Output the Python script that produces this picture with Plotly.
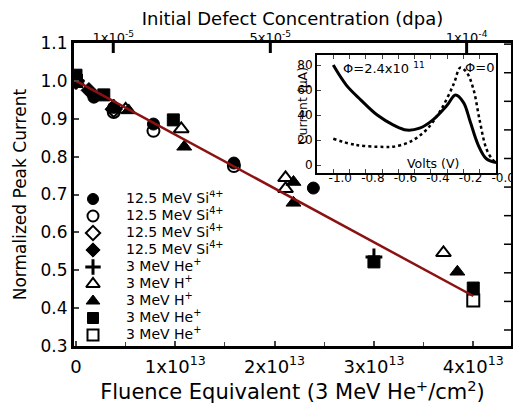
import plotly.graph_objects as go

# ---------------- data ----------------
series_names = [
    "12.5 MeV Si<sup>4+</sup>", "12.5 MeV Si<sup>4+</sup>", "12.5 MeV Si<sup>4+</sup>",
    "12.5 MeV Si<sup>4+</sup>", "3 MeV He<sup>+</sup>", "3 MeV H<sup>+</sup>",
    "3 MeV H<sup>+</sup>", "3 MeV He<sup>+</sup>", "3 MeV He<sup>+</sup>",
]
series_symbols = ["circle", "circle-open", "diamond-open", "diamond", "cross-thin",
                  "triangle-up-open", "triangle-up", "square", "square-open"]

si_filled_circle_x = [0, 0.18e13, 0.38e13, 0.78e13, 1.59e13, 2.39e13]
si_filled_circle_y = [1.0, 0.957, 0.930, 0.886, 0.783, 0.717]
si_open_circle_x = [0, 0.38e13, 0.78e13, 1.59e13]
si_open_circle_y = [1.0, 0.918, 0.868, 0.775]
si_open_diamond_x = [0, 0.38e13]
si_open_diamond_y = [1.0, 0.925]
si_filled_diamond_x = [0, 0.13e13]
si_filled_diamond_y = [1.0, 0.975]
he_plus_x = [0, 3.0e13]
he_plus_y = [1.0, 0.535]
h_open_tri_x = [0, 0.50e13, 1.06e13, 2.11e13, 2.11e13, 3.70e13]
h_open_tri_y = [1.0, 0.925, 0.873, 0.744, 0.715, 0.546]
h_filled_tri_x = [0, 0.38e13, 0.53e13, 1.09e13, 2.19e13, 2.19e13, 3.84e13]
h_filled_tri_y = [1.0, 0.935, 0.922, 0.826, 0.733, 0.678, 0.496]
he_filled_sq_x = [0, 0.28e13, 0.98e13, 3.0e13, 4.0e13]
he_filled_sq_y = [1.015, 0.963, 0.897, 0.522, 0.453]
he_open_sq_x = [0, 4.0e13]
he_open_sq_y = [1.0, 0.420]

fit_x = [0, 4.0e13]
fit_y = [1.0, 0.432]

series_x = [si_filled_circle_x, si_open_circle_x, si_open_diamond_x, si_filled_diamond_x,
            he_plus_x, h_open_tri_x, h_filled_tri_x, he_filled_sq_x, he_open_sq_x]
series_y = [si_filled_circle_y, si_open_circle_y, si_open_diamond_y, si_filled_diamond_y,
            he_plus_y, h_open_tri_y, h_filled_tri_y, he_filled_sq_y, he_open_sq_y]

# inset I-V curves
iv_v_irr = [-1.0, -0.92, -0.83, -0.73, -0.63, -0.55, -0.47, -0.39, -0.30, -0.25, -0.20,
            -0.16, -0.11, -0.06, 0.0]
iv_i_irr = [80, 64, 52, 40, 32, 28, 29.5, 36, 48, 56, 50, 35, 16, 5, 2]
iv_v_ref = [-1.0, -0.86, -0.69, -0.63, -0.53, -0.43, -0.34, -0.26, -0.22, -0.18, -0.14,
            -0.10, -0.06, -0.02, 0.0]
iv_i_ref = [21, 16, 14.5, 14.7, 18.5, 28, 44, 65, 78, 74, 61, 35, 13, 4, 2]

x_tickvals = [0, 1e13, 2e13, 3e13, 4e13]
x_ticktext = ["0", "1x10<sup>13</sup>", "2x10<sup>13</sup>", "3x10<sup>13</sup>", "4x10<sup>13</sup>"]
top_tickvals = [1e-5, 5e-5, 1e-4]
top_ticktext = ["1x10<sup>-5</sup>", "5x10<sup>-5</sup>", "1x10<sup>-4</sup>"]
right_tickvals = list(range(0, 11))
y_tickvals = [0.3, 0.4, 0.5, 0.6, 0.7, 0.8, 0.9, 1.0, 1.1]
y_ticktext = ["0.3", "0.4", "0.5", "0.6", "0.7", "0.8", "0.9", "1.0", "1.1"]
inset_xtickvals = [-1.0, -0.8, -0.6, -0.4, -0.2, 0.0]
inset_xticktext = ["-1.0", "-0.8", "-0.6", "-0.4", "-0.2", "-0.0"]
inset_ytickvals = [0, 20, 40, 60, 80]

legend_rows = list(range(len(series_names)))

# ---------------- figure ----------------
FONT = "DejaVu Sans, Liberation Sans, Arial, sans-serif"
fig = go.Figure()


def marker_for(sym, legend=False):
    open_ = sym.endswith("open")
    size = 13 if "triangle" in sym else 12
    if legend:
        size -= 1
    if sym == "cross-thin":
        return dict(symbol=sym, size=size, line=dict(color="black", width=3), color="black")
    if open_:
        return dict(symbol=sym, size=size, color="black", line=dict(color="black", width=2))
    return dict(symbol=sym, size=size, color="black", line=dict(color="black", width=1))


for name, sym, xs, ys in zip(series_names, series_symbols, series_x, series_y):
    fig.add_trace(go.Scatter(x=xs, y=ys, mode="markers", name=name, marker=marker_for(sym),
                             showlegend=False, xaxis="x", yaxis="y"))

fig.add_trace(go.Scatter(x=fit_x, y=fit_y, mode="lines", line=dict(color="#8b1212", width=2.5),
                         showlegend=False, xaxis="x", yaxis="y"))

# helper traces so the extra axes are drawn
fig.add_trace(go.Scatter(x=[5e-5], y=[None], mode="markers", showlegend=False,
                         xaxis="x2", yaxis="y", hoverinfo="skip"))
fig.add_trace(go.Scatter(x=[None], y=[0], mode="markers", showlegend=False,
                         xaxis="x", yaxis="y3", hoverinfo="skip"))

# legend key (own small subplot, one row per series)
for row, name, sym in zip(legend_rows, series_names, series_symbols):
    fig.add_trace(go.Scatter(x=[0], y=[row], mode="markers", marker=marker_for(sym, legend=True),
                             showlegend=False, xaxis="x4", yaxis="y5", hoverinfo="skip"))
fig.add_trace(go.Scatter(x=[33] * len(legend_rows), y=legend_rows, mode="text", text=series_names,
                         textposition="middle right", textfont=dict(size=14, family=FONT, color="black"),
                         showlegend=False, xaxis="x4", yaxis="y5", hoverinfo="skip"))

# inset
fig.add_trace(go.Scatter(x=iv_v_ref, y=iv_i_ref, mode="lines",
                         line=dict(color="black", width=2.5, dash="dot", shape="spline"),
                         showlegend=False, xaxis="x3", yaxis="y4"))
fig.add_trace(go.Scatter(x=iv_v_irr, y=iv_i_irr, mode="lines",
                         line=dict(color="black", width=3, shape="spline"),
                         showlegend=False, xaxis="x3", yaxis="y4"))

axis_common = dict(showgrid=False, zeroline=False, linecolor="black", showline=True, automargin=False)

# tick marks of the top (dpa) axis and of the right-hand axis
tick_shapes = [dict(type="line", xref="x2", yref="y domain", x0=v, x1=v, y0=1, y1=1 - 10 / 303,
                    line=dict(color="black", width=3)) for v in top_tickvals]
tick_shapes += [dict(type="line", xref="x domain", yref="y3", x0=1, x1=1 - 7 / 437, y0=v, y1=v,
                     line=dict(color="black", width=1.5)) for v in right_tickvals]

# the page body adds an 8 px offset, so the figure is 8 px smaller each way
fig.update_layout(
    width=513, height=397,
    margin=dict(l=66, r=10, t=35, b=59, autoexpand=False),
    paper_bgcolor="white", plot_bgcolor="rgba(0,0,0,0)",
    font=dict(family=FONT, color="black"),
    showlegend=False,
    xaxis=dict(**axis_common, linewidth=3, mirror=True, range=[-0.02e13, 4.38e13],
               tickvals=x_tickvals, ticktext=x_ticktext, ticks="inside", ticklen=5, tickwidth=1.5,
               minor=dict(dtick=0.5e13, tick0=0, ticks="inside", ticklen=4, tickwidth=1),
               tickfont=dict(size=18), ticklabelstandoff=2,
               title=dict(text="Fluence Equivalent (3 MeV He<sup>+</sup>/cm<sup>2</sup>)",
                          font=dict(size=21), standoff=0),
               domain=[0, 1], anchor="y"),
    xaxis2=dict(showgrid=False, zeroline=False, showline=False, automargin=False,
                overlaying="x", side="top", anchor="y",
                range=[0, 1.113e-4], tickvals=top_tickvals, ticktext=top_ticktext,
                ticks="", tickfont=dict(size=13), ticklabelstandoff=-3,
                title=dict(text="Initial Defect Concentration (dpa)", font=dict(size=18), standoff=0)),
    yaxis=dict(**axis_common, linewidth=3, mirror=True, range=[0.3, 1.1],
               tickvals=y_tickvals, ticktext=y_ticktext, ticks="inside", ticklen=5, tickwidth=1.5,
               tickfont=dict(size=17), ticklabelstandoff=0,
               domain=[0, 1], anchor="x"),
    yaxis3=dict(showgrid=False, zeroline=False, showline=False, automargin=False,
                overlaying="y", side="right", anchor="x",
                range=[-0.56, 10.04], ticks="", showticklabels=False),
    xaxis4=dict(visible=False, domain=[0.0, 0.6], range=[-19, 243.2], anchor="y5", fixedrange=True),
    yaxis5=dict(visible=False, domain=[0.00825, 0.5132], range=[8.5, -0.5], anchor="x4", fixedrange=True),
    xaxis3=dict(**axis_common, linewidth=2, mirror="ticks", domain=[0.556, 0.966], anchor="y4",
                range=[-1.1, 0.0], tickvals=inset_xtickvals, ticktext=inset_xticktext,
                ticks="inside", ticklen=4, tickwidth=1,
                minor=dict(dtick=0.1, tick0=0, ticks="inside", ticklen=4, tickwidth=1),
                tickfont=dict(size=12), ticklabelshift=7, ticklabelstandoff=-7),
    yaxis4=dict(**axis_common, linewidth=2, mirror=True, domain=[0.571, 0.960], anchor="x3",
                range=[-6.4, 88], tickvals=inset_ytickvals, ticks="inside", ticklen=4, tickwidth=1,
                tickfont=dict(size=12)),
    shapes=[dict(type="rect", xref="x3 domain", yref="y4 domain", x0=0, x1=1, y0=0, y1=1,
                 fillcolor="white", line=dict(width=0), layer="below")] + tick_shapes,
    annotations=[
        dict(text="Normalized Peak Current", xref="paper", yref="paper", x=-0.124, y=0.5,
             xanchor="center", yanchor="middle", textangle=-90, showarrow=False, font=dict(size=17)),
        dict(text="Φ=2.4x10 <sup>11</sup>", xref="x3", yref="y4", x=-0.95, y=78, xanchor="left",
             yanchor="middle", showarrow=False, font=dict(size=13)),
        dict(text="Φ=0", xref="x3", yref="y4", x=0.0, y=78, xanchor="right",
             yanchor="middle", showarrow=False, font=dict(size=13)),
        dict(text="Volts (V)", xref="x3", yref="y4", x=-0.386, y=1, xanchor="center",
             yanchor="middle", showarrow=False, font=dict(size=12.5)),
        dict(text="Current (μA)", xref="paper", yref="paper", x=0.522, y=0.792, xanchor="center",
             yanchor="middle", textangle=-90, showarrow=False, font=dict(size=12.5)),
    ],
)

fig.write_html("out.html")
